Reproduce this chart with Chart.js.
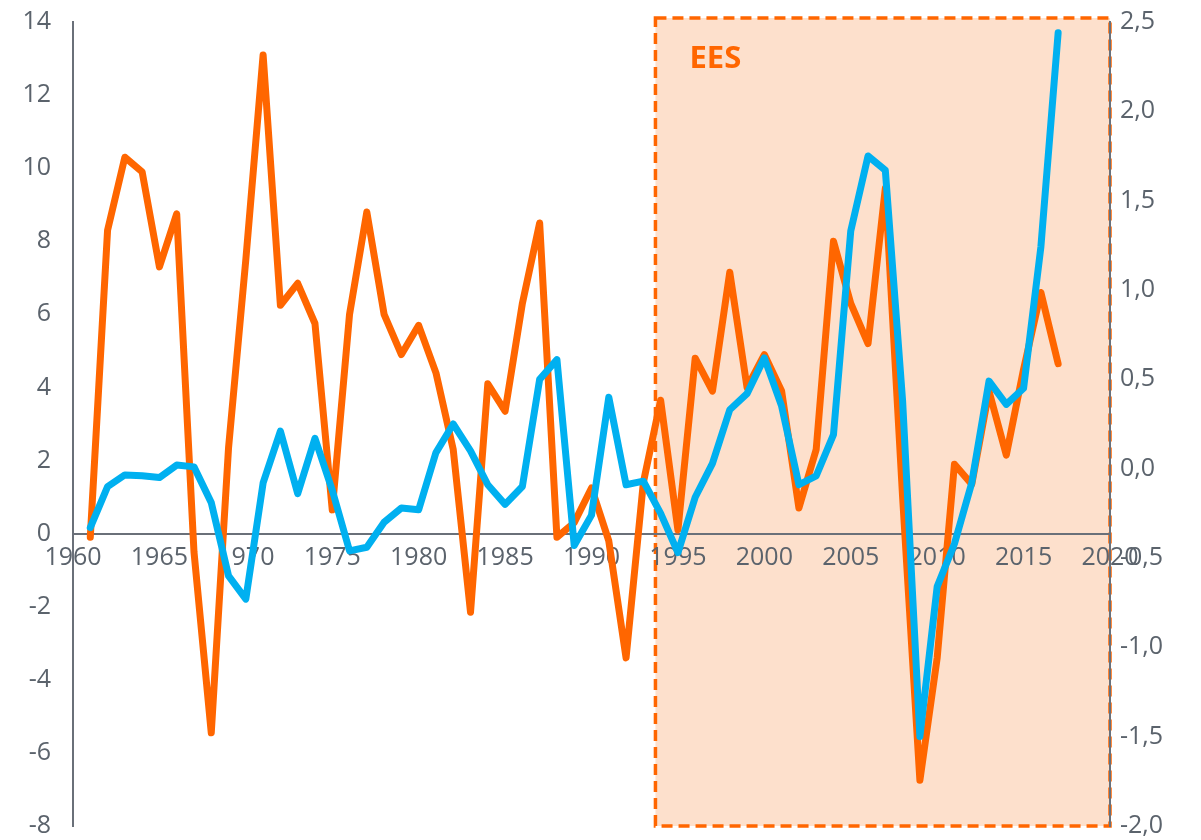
<!DOCTYPE html>
<html>
<head>
<meta charset="utf-8">
<title>EES</title>
<script src="https://cdn.jsdelivr.net/npm/chart.js@4.4.1/dist/chart.umd.min.js"></script>
<style>
    html, body { margin: 0; padding: 0; background: #ffffff; }
    #wrap { width: 1201px; height: 840px; position: relative; }
</style>
</head>
<body>
<div id="wrap"><canvas id="mainChart"></canvas></div>
<script>
/* ================= DATA ================= */
const years = [
    1961, 1962, 1963, 1964, 1965, 1966, 1967, 1968, 1969, 1970,
    1971, 1972, 1973, 1974, 1975, 1976, 1977, 1978, 1979, 1980,
    1981, 1982, 1983, 1984, 1985, 1986, 1987, 1988, 1989, 1990,
    1991, 1992, 1993, 1994, 1995, 1996, 1997, 1998, 1999, 2000,
    2001, 2002, 2003, 2004, 2005, 2006, 2007, 2008, 2009, 2010,
    2011, 2012, 2013, 2014, 2015, 2016, 2017
];

// orange line, left axis
const orangeValues = [
    -0.1, 8.3, 10.3, 9.9, 7.3, 8.75, -0.5, -5.45, 2.35, 7.5,
    13.1, 6.25, 6.85, 5.75, 0.65, 6.0, 8.8, 6.0, 4.9, 5.7,
    4.4, 2.3, -2.15, 4.1, 3.35, 6.3, 8.5, -0.1, 0.3, 1.25,
    -0.2, -3.4, 1.4, 3.65, 0.1, 4.8, 3.9, 7.15, 4.0, 4.9,
    3.9, 0.7, 2.3, 8.0, 6.3, 5.2, 9.45, 1.0, -6.75, -3.4,
    1.9, 1.35, 3.9, 2.15, 4.5, 6.6, 4.65
];

// blue line, right axis
const blueValues = [
    -0.33, -0.1, -0.035, -0.04, -0.05, 0.02, 0.01, -0.19, -0.6, -0.73,
    -0.08, 0.21, -0.14, 0.17, -0.12, -0.46, -0.44, -0.3, -0.22, -0.23,
    0.09, 0.25, 0.1, -0.09, -0.2, -0.1, 0.5, 0.61, -0.43, -0.26,
    0.4, -0.09, -0.07, -0.25, -0.47, -0.16, 0.03, 0.33, 0.42, 0.62,
    0.35, -0.09, -0.04, 0.19, 1.33, 1.75, 1.67, 0.38, -1.5, -0.66,
    -0.42, -0.08, 0.49, 0.36, 0.45, 1.24, 2.44
];

const xTicks = [1960, 1965, 1970, 1975, 1980, 1985, 1990, 1995, 2000, 2005, 2010, 2015, 2020];
const leftTicks = [-8, -6, -4, -2, 0, 2, 4, 6, 8, 10, 12, 14];
const rightTicks = [-2.0, -1.5, -1.0, -0.5, 0.0, 0.5, 1.0, 1.5, 2.0, 2.5];

const eesLabel = "EES";
const eesStart = 1993.7;
const eesEnd = 2020;

/* ================= STYLE ================= */
const ORANGE = "#ff6600";
const BLUE = "#00b0f0";
const AXIS_GREY = "#6a7079";
const TEXT_GREY = "#5b636c";
const FONT = "'Open Sans', 'Noto Sans', sans-serif";

function toPoints(values) {
    return values.map((v, i) => ({ x: years[i], y: v }));
}

// drop the label overhang padding so the plot area sits where we want it
function noPadding(scale) {
    scale.paddingTop = 0;
    scale.paddingBottom = 0;
    scale.paddingLeft = 0;
    scale.paddingRight = 0;
}

/* ================= EES BOX PLUGIN ================= */
const eesBox = {
    id: "eesBox",
    beforeDraw(chart) {
        const { ctx, chartArea, scales } = chart;
        const left = scales.x.getPixelForValue(eesStart);
        const right = scales.x.getPixelForValue(eesEnd);
        const top = chartArea.top - 4;
        const bottom = chartArea.bottom;

        ctx.save();
        ctx.fillStyle = "#fde0cc";
        ctx.fillRect(left, top, right - left, bottom - top);

        ctx.strokeStyle = ORANGE;
        ctx.lineWidth = 3.5;
        ctx.setLineDash([11, 6]);
        ctx.strokeRect(left, top, right - left, bottom - top);
        ctx.setLineDash([]);

        ctx.fillStyle = ORANGE;
        ctx.font = "bold 31px " + FONT;
        ctx.textAlign = "left";
        ctx.textBaseline = "middle";
        ctx.fillText(eesLabel, left + 34, top + 41);
        ctx.restore();
    }
};

/* ================= CHART ================= */
const canvas = document.getElementById("mainChart");

new Chart(canvas, {
    type: "line",
    data: {
        datasets: [
            {
                label: "blue",
                data: toPoints(blueValues),
                yAxisID: "y1",
                borderColor: BLUE,
                borderWidth: 7,
                order: 1
            },
            {
                label: "orange",
                data: toPoints(orangeValues),
                yAxisID: "y",
                borderColor: ORANGE,
                borderWidth: 7,
                order: 2
            }
        ]
    },
    options: {
        responsive: true,
        maintainAspectRatio: false,
        animation: false,
        layout: { padding: { top: 22, bottom: 14, left: 0, right: 0 } },
        elements: {
            point: { radius: 0, hoverRadius: 0 },
            line: { tension: 0, borderJoinStyle: "round", borderCapStyle: "round", fill: false }
        },
        plugins: {
            legend: { display: false },
            tooltip: { enabled: false }
        },
        scales: {
            x: {
                type: "linear",
                min: 1960,
                max: 2020,
                position: { y: 0 },
                afterFit: noPadding,
                grid: { display: false, drawTicks: false },
                border: { display: true, color: AXIS_GREY, width: 2 },
                afterBuildTicks: (scale) => {
                    scale.ticks = xTicks.map(v => ({ value: v }));
                },
                ticks: {
                    color: TEXT_GREY,
                    font: { family: FONT, size: 25 },
                    padding: 9,
                    maxRotation: 0,
                    autoSkip: false,
                    callback: (v) => String(v)
                }
            },
            y: {
                type: "linear",
                position: "left",
                min: -8,
                max: 14,
                afterFit: (scale) => { scale.width = 73; noPadding(scale); },
                afterBuildTicks: (scale) => {
                    scale.ticks = leftTicks.map(v => ({ value: v }));
                },
                grid: { display: false, drawTicks: false },
                border: { display: true, color: AXIS_GREY, width: 2 },
                ticks: {
                    color: TEXT_GREY,
                    font: { family: FONT, size: 25 },
                    padding: 22,
                    callback: (v) => String(v)
                }
            },
            y1: {
                type: "linear",
                position: "right",
                min: -2,
                max: 2.5,
                afterFit: (scale) => { scale.width = 91; noPadding(scale); },
                afterBuildTicks: (scale) => {
                    scale.ticks = rightTicks.map(v => ({ value: v }));
                },
                grid: { display: false, drawTicks: false },
                border: { display: true, color: AXIS_GREY, width: 2 },
                ticks: {
                    color: TEXT_GREY,
                    font: { family: FONT, size: 25 },
                    padding: 10,
                    callback: (v) => v.toFixed(1).replace(".", ",")
                }
            }
        }
    },
    plugins: [eesBox]
});
</script>
</body>
</html>
